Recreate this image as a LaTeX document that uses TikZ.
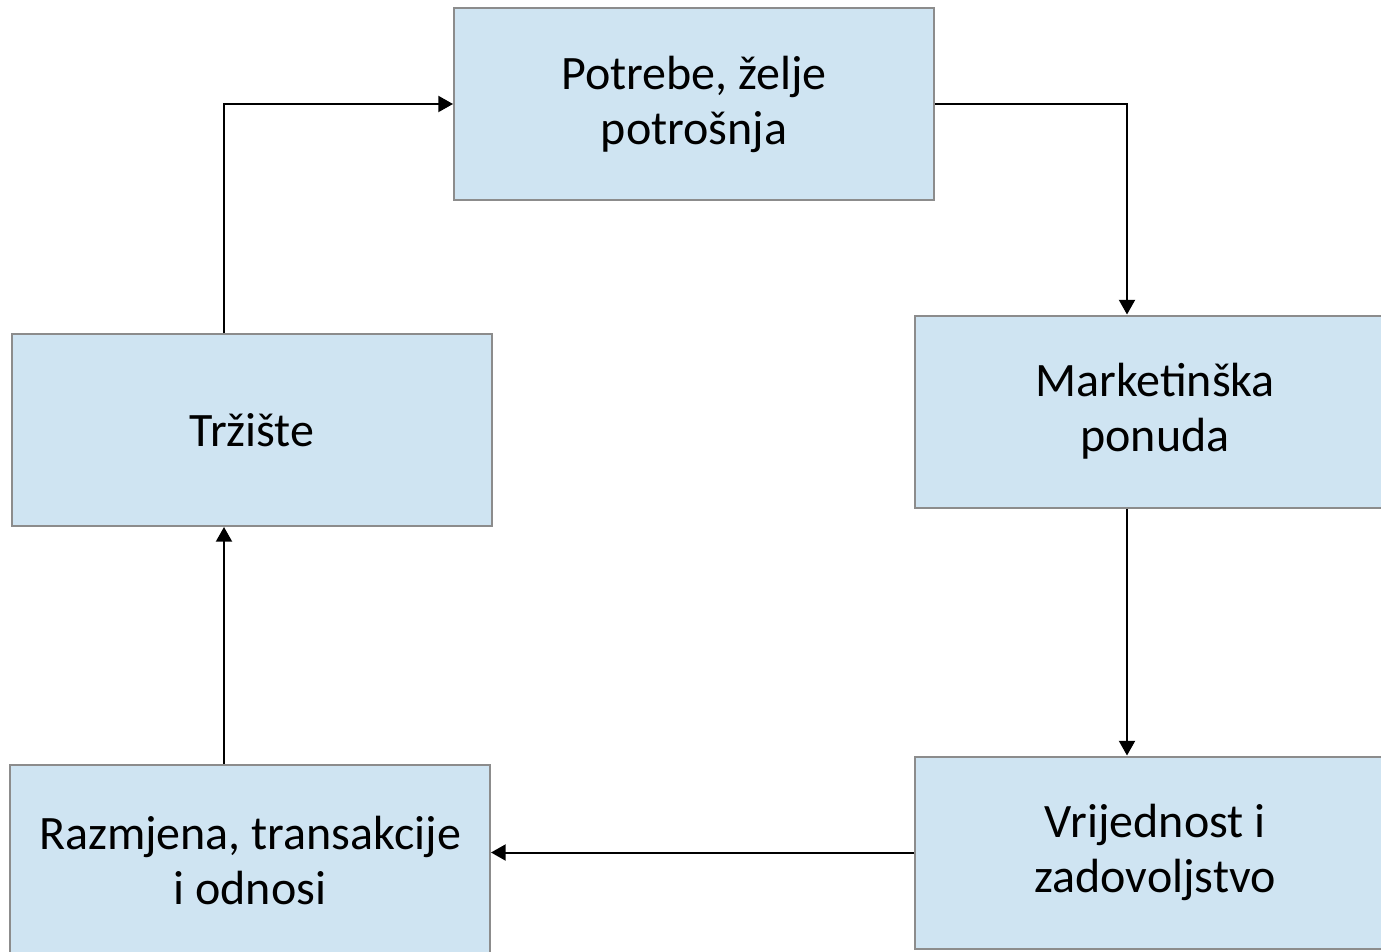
\documentclass[tikz,border=0pt]{standalone}
\usepackage{fontspec}
\setmainfont{Carlito}
\usetikzlibrary{arrows.meta}
\definecolor{boxfill}{RGB}{207,228,242}
\definecolor{boxline}{RGB}{140,140,140}
\tikzset{
  stagebox/.style={draw=boxline, line width=1.5pt, fill=boxfill, rectangle,
    minimum width=360pt, minimum height=144pt, inner sep=0pt, align=center,
    font=\fontsize{36}{41.25}\selectfont},
  flow/.style={line width=1.5pt, -{Triangle[length=11pt,width=12pt]}}
}
\begin{document}
\begin{tikzpicture}[x=0.75pt,y=0.75pt,yscale=-1,xscale=1]
\useasboundingbox (0,0) rectangle (1381,952);
\clip (0,0) rectangle (1381,952);

% Boxes
\node[stagebox] (pot) at (694,104) {Potrebe, želje\\potrošnja};
\node[stagebox] (mark) at (1155,411.5) {Marketinška\\ponuda};
\node[stagebox] (vri) at (1155,852.5) {Vrijednost i\\zadovoljstvo};
\node[stagebox] (raz) at (250,861) {Razmjena, transakcije\\i odnosi};
\node[stagebox] (trz) at (252,430) {Tržište};

% columns of the vertical connectors
\coordinate (lcol) at (224,0);
\coordinate (rcol) at (1127,0);

% Connectors
\draw[flow] (trz.north -| lcol) |- (pot.west);
\draw[flow] (pot.east) -| (mark.north -| rcol);
\draw[flow] (mark.south -| rcol) -- (vri.north -| rcol);
\draw[flow] (vri.west) -- (raz.east |- vri.west);
\draw[flow] (raz.north -| lcol) -- (trz.south -| lcol);

\end{tikzpicture}
\end{document}
